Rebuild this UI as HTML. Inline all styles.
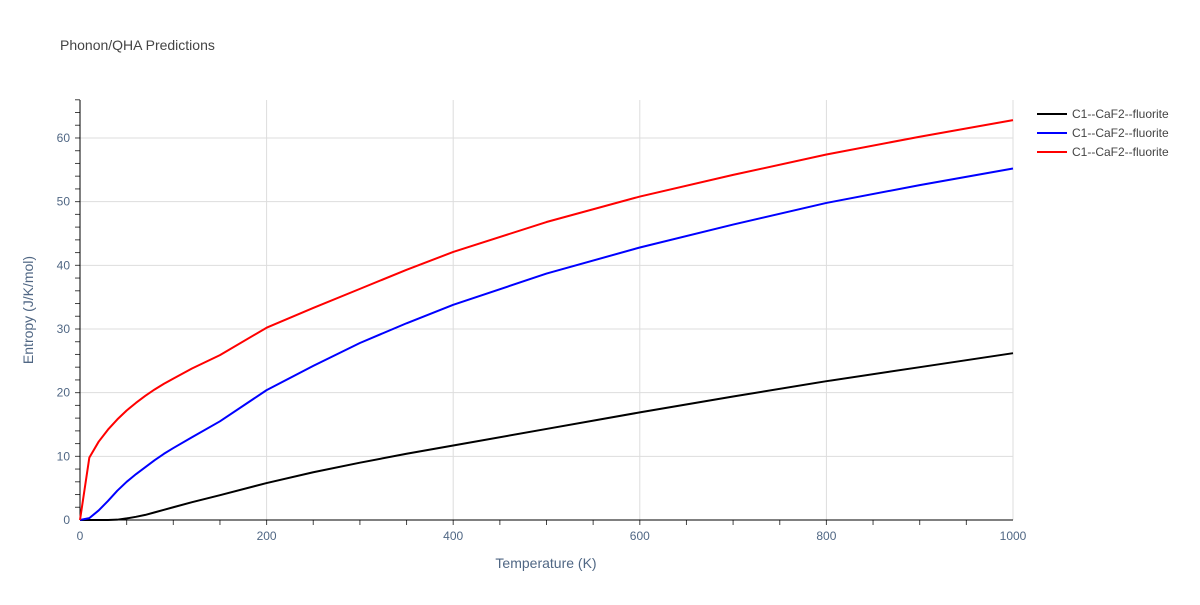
<!DOCTYPE html>
<html><head><meta charset="utf-8"><style>
body{margin:0;background:#fff;font-family:"Liberation Sans",sans-serif}
svg text{font-family:"Liberation Sans",sans-serif}
</style></head><body>
<svg id="chart" width="1200" height="600" xmlns="http://www.w3.org/2000/svg">
<rect width="1200" height="600" fill="#fff"/>
<text x="60" y="50" font-size="14" fill="#444">Phonon/QHA Predictions</text>
<g id="grid"></g><g id="axes"></g><g id="series"></g>
<text x="546" y="568" font-size="14" fill="#506784" text-anchor="middle">Temperature (K)</text>
<text transform="translate(33,310) rotate(-90)" font-size="14" fill="#506784" text-anchor="middle">Entropy (J/K/mol)</text>
<g id="legend"></g>
</svg>
<script>
const temps=[0,10,20,30,40,50,60,70,80,90,100,120,150,200,250,300,350,400,500,600,700,800,900,1000];
const black=[0,0,0,0,0.05,0.25,0.5,0.8,1.2,1.6,2,2.8,3.9,5.8,7.5,9,10.4,11.7,14.3,16.9,19.4,21.8,24,26.2];
const blue=[0,0.3,1.5,3,4.6,6,7.2,8.3,9.4,10.4,11.3,13,15.5,20.4,24.2,27.8,30.9,33.8,38.7,42.8,46.4,49.8,52.6,55.2];
const red=[0,9.8,12.3,14.2,15.8,17.2,18.4,19.5,20.5,21.4,22.2,23.8,25.9,30.2,33.3,36.3,39.3,42.1,46.8,50.8,54.2,57.4,60.2,62.8];
const xTicks=[0,200,400,600,800,1000];
const yTicks=[0,10,20,30,40,50,60];
const seriesNames=["C1--CaF2--fluorite","C1--CaF2--fluorite","C1--CaF2--fluorite"];
const X=v=>80+v*0.933, Y=v=>520-v*6.367;
const NS="http://www.w3.org/2000/svg";
function mk(tag,attrs,parent){const e=document.createElementNS(NS,tag);for(const k in attrs)e.setAttribute(k,attrs[k]);parent.appendChild(e);return e;}
const grid=document.getElementById('grid'),axes=document.getElementById('axes'),ser=document.getElementById('series'),leg=document.getElementById('legend');
xTicks.forEach(t=>{
 if(t>0){const l=mk('line',{x1:X(t),x2:X(t),y1:100,y2:520,stroke:'#ddd'},grid);
 
 }
 const tx=mk('text',{x:X(t),y:540,'font-size':12,fill:'#506784','text-anchor':'middle'},axes);tx.textContent=t;
 
 
});
for(let t=50;t<1000;t+=50){mk('line',{x1:X(t),x2:X(t),y1:520,y2:525,stroke:'#444'},axes);}
yTicks.forEach(t=>{
 if(t>0){const l=mk('line',{x1:80,x2:1013,y1:Y(t),y2:Y(t),stroke:'#ddd'},grid);
 
 }
 const tx=mk('text',{x:70,y:Y(t)+4,'font-size':12,fill:'#506784','text-anchor':'end'},axes);tx.textContent=t;
 
 
});
for(let t=2;t<=66;t+=2){mk('line',{x1:75,x2:80,y1:Y(t),y2:Y(t),stroke:'#444'},axes);}
const ya=mk('line',{x1:80,x2:80,y1:100,y2:520,stroke:'#000'},axes);


const xa=mk('line',{x1:80,x2:1013,y1:520,y2:520,stroke:'#000'},axes);


const data=[black,blue,red],colors=['#000','#00f','#f00'],names=['series-black-line','series-blue-line','series-red-line'];
data.forEach((d,i)=>{
 const p=mk('polyline',{points:temps.map((t,j)=>X(t)+','+Y(d[j])).join(' '),fill:'none',stroke:colors[i],'stroke-width':2,'stroke-linejoin':'round'},ser);
 
 
 const g=mk('g',{},leg);
 
 
 mk('line',{x1:1037,x2:1067,y1:114+i*19,y2:114+i*19,stroke:colors[i],'stroke-width':2},g);
 const t=mk('text',{x:1072,y:118+i*19,'font-size':12,fill:'#444'},g);t.textContent=seriesNames[i];
});
</script>
</body></html>
